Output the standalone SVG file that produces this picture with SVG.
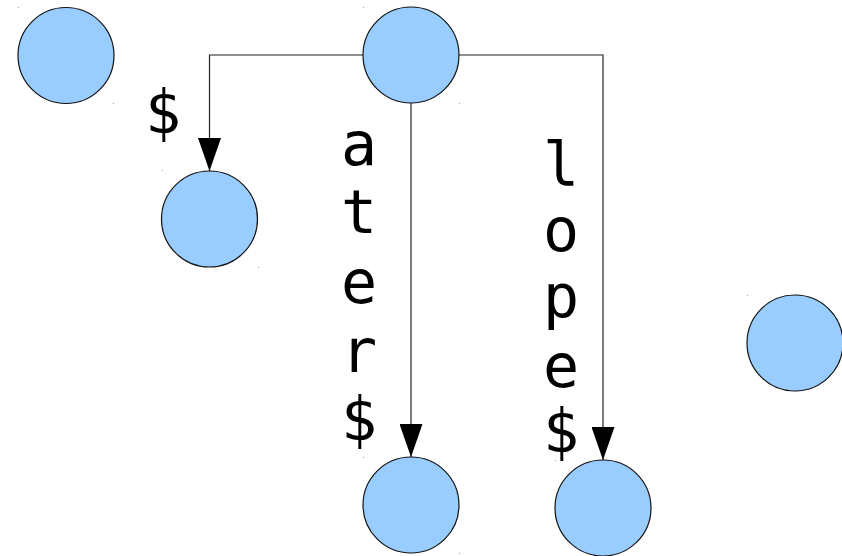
<svg xmlns="http://www.w3.org/2000/svg" width="842" height="556" viewBox="0 0 842 556">
  <style>
    .node { fill: #99ccff; stroke: #111; stroke-width: 1.2; }
    .edge { fill: none; stroke: #222; stroke-width: 1.2; }
    .mark { fill: #999; }
    .lbl { font-family: "DejaVu Sans Mono", "Liberation Mono", monospace; font-size: 60px; fill: #000; text-anchor: middle; }
  </style>
  <defs>
    <!-- filled triangular head, 33 long and 23 wide -->
    <marker id="arrow" markerUnits="userSpaceOnUse" markerWidth="34" markerHeight="23" refX="33" refY="11.5" orient="auto" viewBox="0 0 34 23">
      <path d="M0,0 L33,11.5 L0,23 Z" fill="#000"/>
    </marker>
  </defs>
  <rect width="842" height="556" fill="#fff"/>

  <g id="connectors">
    <path class="edge" d="M363,55 H209.5 V171" marker-end="url(#arrow)"/>
    <path class="edge" d="M411,103 V457" marker-end="url(#arrow)"/>
    <path class="edge" d="M459,55 H603 V460" marker-end="url(#arrow)"/>
  </g>

  <g id="n-isolated-left">
    <circle class="node" cx="66" cy="55.5" r="48"/>
    <rect class="mark" x="18" y="7" width="1" height="1"/>
    <rect class="mark" x="113" y="103" width="1" height="1"/>
  </g>
  <g id="n-root">
    <circle class="node" cx="411" cy="55" r="48"/>
    <rect class="mark" x="363" y="7" width="1" height="1"/>
    <rect class="mark" x="459" y="103" width="1" height="1"/>
  </g>
  <g id="n-dollar">
    <circle class="node" cx="209.5" cy="219" r="48"/>
    <rect class="mark" x="162" y="170" width="1" height="1"/>
    <rect class="mark" x="258" y="267" width="1" height="1"/>
  </g>
  <g id="n-ater">
    <circle class="node" cx="411" cy="505" r="48"/>
    <rect class="mark" x="363" y="457" width="1" height="1"/>
    <rect class="mark" x="459" y="553" width="1" height="1"/>
  </g>
  <g id="n-lope">
    <circle class="node" cx="603" cy="508" r="48"/>
    <rect class="mark" x="555" y="460" width="1" height="1"/>
  </g>
  <g id="n-isolated-right">
    <circle class="node" cx="795" cy="343" r="48"/>
    <rect class="mark" x="747" y="295" width="1" height="1"/>
  </g>

  <g id="labels">
    <text class="lbl" x="163" y="133">$</text>

    <text class="lbl" x="359" y="165">a</text>
    <text class="lbl" x="359" y="233">t</text>
    <text class="lbl" x="359" y="303">e</text>
    <text class="lbl" x="359" y="372">r</text>
    <text class="lbl" x="359" y="440">$</text>

    <text class="lbl" x="561" y="185">l</text>
    <text class="lbl" x="561" y="251">o</text>
    <text class="lbl" x="561" y="317">p</text>
    <text class="lbl" x="561" y="387">e</text>
    <text class="lbl" x="561" y="452">$</text>
  </g>
</svg>
